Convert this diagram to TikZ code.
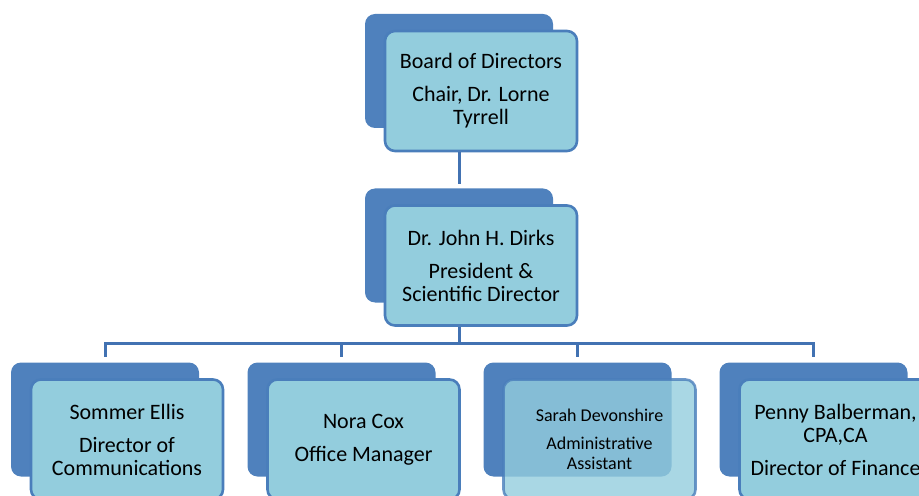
\documentclass[tikz,border=0pt]{standalone}
\usepackage{fontspec}
\setmainfont{Carlito}
\definecolor{backblue}{HTML}{4F81BD}
\definecolor{cardfill}{HTML}{93CDDD}
\definecolor{cardline}{HTML}{4A7EBB}
\definecolor{linkline}{HTML}{4272B2}

\tikzset{
  backbox/.style={fill=backblue, rounded corners=5pt, minimum width=94pt, minimum height=57pt, inner sep=0pt},
  card/.style={draw=cardline, line width=1.3pt, fill=cardfill, rounded corners=5pt, minimum width=96pt, minimum height=60pt, inner sep=0pt, align=center, font=\fontsize{11}{11.5}\selectfont, xshift=11pt, yshift=-10pt},
  link/.style={draw=linkline, line width=1.5pt},
}

\begin{document}
\begin{tikzpicture}[x=0.5pt, y=-0.5pt]
    \useasboundingbox (0,0) rectangle (919,496);
    % top two levels
    \node[backbox] (boardback) at (459,71) {};
    \node[card] (board) at (boardback) {Board of Directors\\[5pt]Chair, Dr. Lorne\\Tyrrell};
    \node[backbox] (presback) at (459,245.5) {};
    \node[card] (pres) at (presback) {Dr. John H. Dirks\\[5pt]President \&\\Scientific Director};
    % staff
    \node[backbox] (ellisback) at (105,419.5) {};
    \node[card] (ellis) at (ellisback) {Sommer Ellis\\[5pt]Director of\\Communications};
    \node[backbox] (coxback) at (341.5,419.5) {};
    \node[card] (cox) at (coxback) {Nora Cox\\[5pt]Office Manager};
    \node[backbox] (sarahback) at (577.5,419.5) {};
    \node[card, fill opacity=0.8, draw opacity=0.8, text opacity=1, font=\fontsize{9}{10}\selectfont] (sarah) at (sarahback) {Sarah Devonshire\\[4pt]Administrative\\Assistant};
    \node[backbox] (pennyback) at (813.5,419.5) {};
    \node[card] (penny) at (pennyback) {Penny Balberman,\\CPA,CA\\[5pt]Director of Finance};
    % lines
    \draw[link, shorten >=2pt] (boardback |- board.south) -- (presback.north);
    \draw[link] (presback |- pres.south) -- ++(0,17) coordinate (bus);
    \draw[link, shorten >=2.5pt] (bus) -| (ellisback.north);
    \draw[link, shorten >=2.5pt] (bus) -| (coxback.north);
    \draw[link, shorten >=2.5pt] (bus) -| (sarahback.north);
    \draw[link, shorten >=2.5pt] (bus) -| (pennyback.north);
\end{tikzpicture}
\end{document}
